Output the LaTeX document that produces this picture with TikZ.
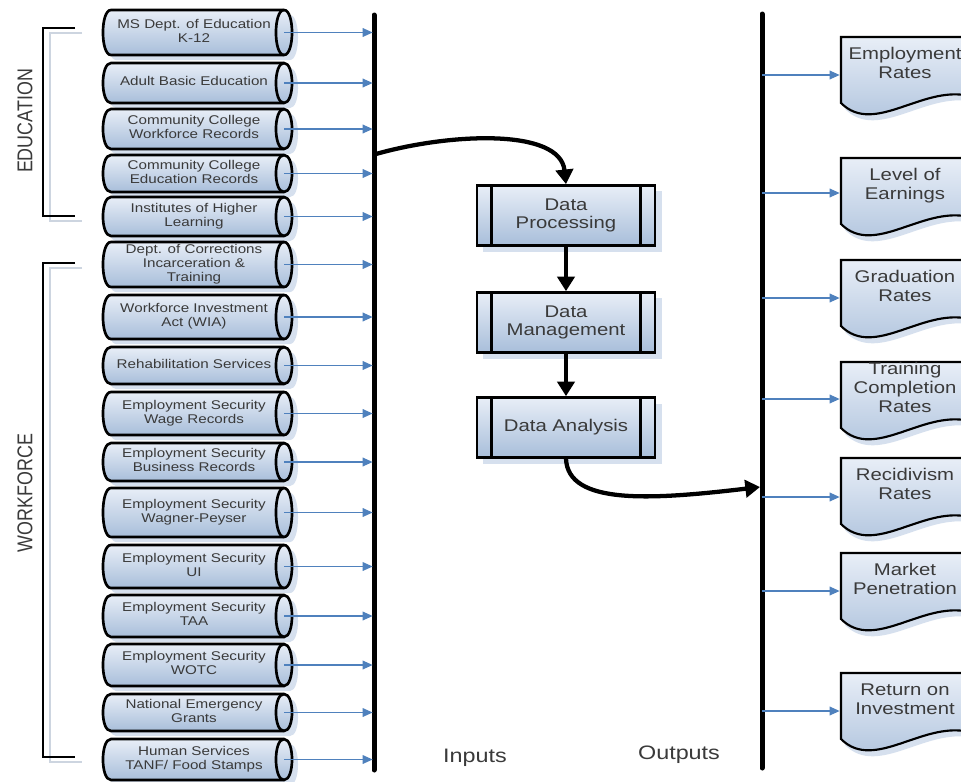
\documentclass[tikz,border=0pt]{standalone}
\usepackage{fontspec}
\setmainfont{Liberation Sans}
\usepackage{graphicx}
\usetikzlibrary{arrows.meta,calc}
\definecolor{txt}{HTML}{3A3A3A}
\definecolor{ftop}{HTML}{E8EEF7}
\definecolor{fbot}{HTML}{A8BEDA}
\definecolor{shad}{HTML}{D6E0EE}
\definecolor{ablue}{HTML}{4F81BD}
\definecolor{brsh}{HTML}{CDD5E0}
\newcommand{\stxt}[1]{\scalebox{1.2}[1]{\begin{tabular}{@{}c@{}}#1\end{tabular}}}
\newcommand{\cylrow}[4]{%
  \pgfmathsetmacro{\cc}{(#2+#3)/2}%
  \fill[shad] (116,#2+5) -- (290,#2+5) .. controls (300.7,#2+5) and (300.7,#3+5) .. (290,#3+5) -- (116,#3+5) .. controls (105.3,#3+5) and (105.3,#2+5) .. (116,#2+5) -- cycle;
  \path[cylbody] (111,#2) -- (284,#2) .. controls (294.7,#2) and (294.7,#3) .. (284,#3) -- (111,#3) .. controls (100.3,#3) and (100.3,#2) .. (111,#2) -- cycle;
  \draw[cylline] (284,#2) .. controls (273.3,#2) and (273.3,#3) .. (284,#3);
  \node[cyltext] (#1) at (194,\cc) {\stxt{#4}};
  \coordinate (#1e) at (284,\cc);
  \draw[barrow] (#1e) -- (#1e -| ibt);
}
\newcommand{\docrow}[4]{%
  \fill[shad] (845,#2+6) -- (977,#2+6) -- (977,#2+66) .. controls (929,#2+51) and (879,#2+106) .. (845,#2+72) -- cycle;
  \path[docbody] (841,#2) -- (973,#2) -- (973,#2+60) .. controls (925,#2+45) and (875,#2+100) .. (841,#2+66) -- cycle;
  \node[doctext] (#1) at (905,#2+28) {\stxt{#4}};
  \coordinate (#1w) at (841,#3);
  \draw[barrow] (#1w -| obt) -- (#1w);
}
\begin{document}
\begin{tikzpicture}[x=0.75pt,y=-0.75pt,
  cylbody/.style={top color=ftop, bottom color=fbot, draw=black, line width=2pt},
  cylline/.style={draw=black, line width=2pt},
  cyltext/.style={text=txt, font=\fontsize{9.5}{10.5}\selectfont, inner sep=0pt},
  docbody/.style={top color=ftop, bottom color=fbot, draw=black, line width=1.6pt},
  doctext/.style={text=txt, font=\fontsize{12.7}{14.2}\selectfont, inner sep=0pt},
  pbox/.style={draw=black, line width=2pt, top color=ftop, bottom color=fbot,
    minimum width=133.5pt, minimum height=45pt, inner sep=0pt, text=txt,
    font=\fontsize{12.7}{13.5}\selectfont},
  barrow/.style={draw=ablue, line width=1pt, shorten >=1pt, -{Triangle[length=7.5pt,width=6.5pt]}},
  bigarrow/.style={line width=3.2pt, -{Triangle[length=11pt,width=13pt]}},
  vbar/.style={line width=3.75pt, line cap=round},
  brk/.style={line width=2pt},
  brkshadow/.style={line width=2pt, draw=brsh},
  glabel/.style={text=txt, font=\fontsize{13.4}{15}\selectfont},
  iolabel/.style={text=txt, font=\fontsize{14.6}{16}\selectfont}]
\useasboundingbox (0,0) rectangle (961,782);
\clip (0,0) rectangle (961,782);
\fill[white] (0,0) rectangle (961,782);

% bars
\coordinate (ibt) at (374,15);
\coordinate (ibb) at (374,770);
\coordinate (obt) at (762,14);
\coordinate (obb) at (762,768);
\draw[vbar] (ibt) -- (ibb);
\draw[vbar] (obt) -- (obb);

% brackets
\draw[brkshadow] (82,33) -- (50,33) -- (50,221) -- (82,221);
\draw[brk] (75,28) -- (43,28) -- (43,216) -- (75,216);
\draw[brkshadow] (82,268) -- (50,268) -- (50,762) -- (82,762);
\draw[brk] (75,263) -- (43,263) -- (43,757) -- (75,757);
\node[glabel, rotate=90] (edu) at (25,121) {\scalebox{1}[1.2]{EDUCATION}};
\node[glabel, rotate=90] (wf) at (25,493) {\scalebox{1}[1.2]{WORKFORCE}};

% inputs
\cylrow{c1}{10}{55}{MS Dept. of Education\\K-12}
\cylrow{c2}{63}{103}{Adult Basic Education}
\cylrow{c3}{109}{149}{Community College\\Workforce Records}
\cylrow{c4}{155}{192}{Community College\\Education Records}
\cylrow{c5}{197}{236}{Institutes of Higher\\Learning}
\cylrow{c6}{242}{287}{Dept. of Corrections\\Incarceration \&\\Training}
\cylrow{c7}{295}{339}{Workforce Investment\\Act (WIA)}
\cylrow{c8}{347}{384}{Rehabilitation Services}
\cylrow{c9}{392}{435}{Employment Security\\Wage Records}
\cylrow{c10}{443}{481}{Employment Security\\Business Records}
\cylrow{c11}{488}{537}{Employment Security\\Wagner-Peyser}
\cylrow{c12}{545}{588}{Employment Security\\UI}
\cylrow{c13}{595}{637}{Employment Security\\TAA}
\cylrow{c14}{644}{686}{Employment Security\\WOTC}
\cylrow{c15}{694}{731}{National Emergency\\Grants}
\cylrow{c16}{739}{780}{Human Services\\TANF/ Food Stamps}

% process boxes
\fill[shad] (483,191) rectangle (662,252);
\fill[shad] (483,298) rectangle (662,359);
\fill[shad] (483,404) rectangle (662,464);
\node[pbox] (dp) at (566,215.5) {\stxt{Data\\Processing}};
\node[pbox] (dm) at (566,322.5) {\stxt{Data\\Management}};
\node[pbox] (da) at (566,427.5) {\stxt{Data Analysis}};
\foreach \b in {dp,dm,da}{
  \draw[line width=2pt] ([xshift=12pt]\b.north west) -- ([xshift=12pt]\b.south west);
  \draw[line width=2pt] ([xshift=-12pt]\b.north east) -- ([xshift=-12pt]\b.south east);
}
\draw[bigarrow] (dp) -- (dm);
\draw[bigarrow] (dm) -- (da);
\coordinate (ib1) at (376,154);
\coordinate (ob2) at (760,487);
\draw[bigarrow] (ib1) .. controls (450,133) and (560,128) .. (dp.north);
\draw[bigarrow] (da.south) .. controls (568,505) and (650,500) .. (ob2);

% outputs
\docrow{o1}{37}{75}{Employment\\Rates}
\docrow{o2}{158}{193}{Level of\\Earnings}
\docrow{o3}{260}{298}{Graduation\\Rates}
\docrow{o4}{362}{399}{Training\\Completion\\Rates}
\docrow{o5}{458}{497}{Recidivism\\Rates}
\docrow{o6}{553}{591}{Market\\Penetration}
\docrow{o7}{673}{711}{Return on\\Investment}

\node[iolabel] (inl) at (475,758) {\scalebox{1.2}[1]{Inputs}};
\node[iolabel] (outl) at (679,755) {\scalebox{1.2}[1]{Outputs}};
\end{tikzpicture}
\end{document}
